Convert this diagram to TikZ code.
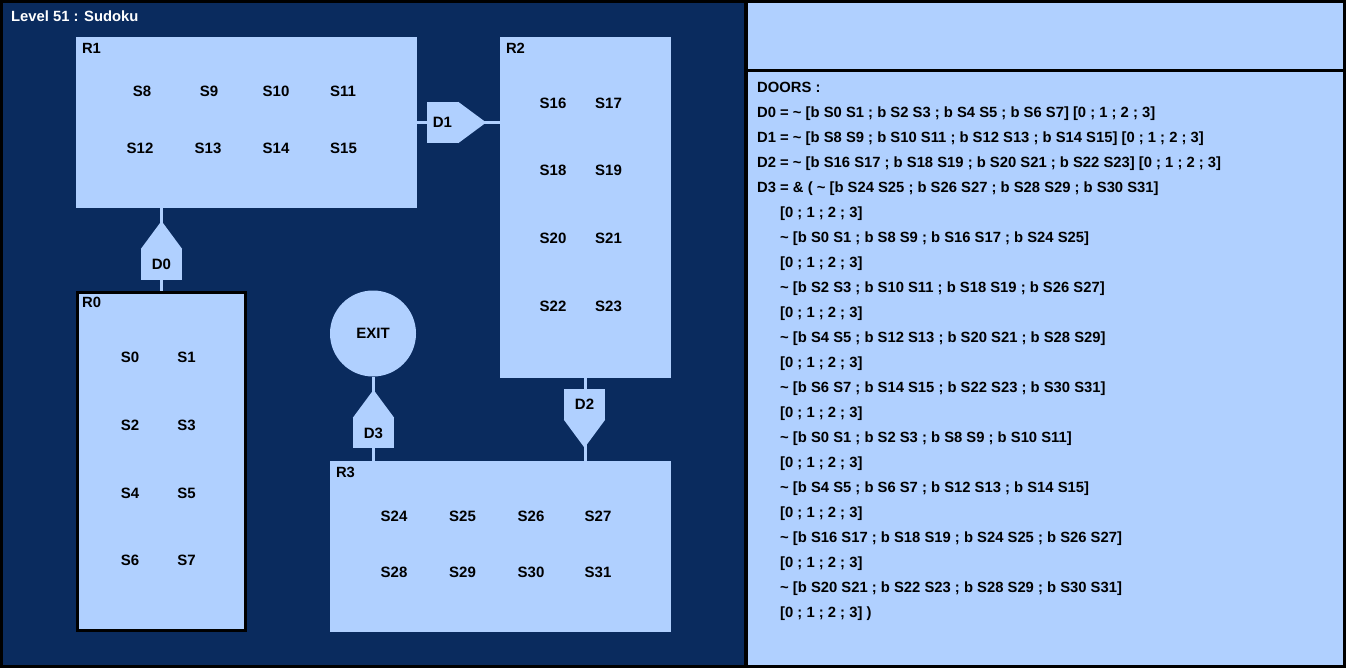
\documentclass[tikz,border=0pt]{standalone}
\usepackage{fontspec}
\setmainfont{Liberation Sans}
\usetikzlibrary{shapes,arrows}

\definecolor{mapblue}{RGB}{10,43,94}
\definecolor{roomblue}{RGB}{176,208,255}

\newcommand{\doortilde}{\textasciitilde}
\newcommand{\doorindent}{\hspace*{23pt}}

\begin{document}
\begin{tikzpicture}[x=1pt,y=-1pt]
            \tikzstyle{txt}=[font=\fontsize{14.8}{25}\selectfont\bfseries,inner sep=0]
            \tikzstyle{cell}=[font=\fontsize{15}{18}\selectfont\bfseries,inner sep=0]
            \tikzstyle{panel}=[rectangle,inner sep=0]
            \tikzstyle{room}=[rectangle,fill=roomblue,inner sep=0]
            \tikzstyle{W}=[room,minimum width=341,minimum height=171]   % wide room
            \tikzstyle{T}=[room,minimum width=171,minimum height=341]   % tall room
            \tikzstyle{door}=[rectangle,fill=roomblue,inner sep=0,font=\fontsize{15}{18}\selectfont\bfseries]
            \tikzstyle{link}=[line width=3pt,draw=roomblue]

            \useasboundingbox (0,0) rectangle (1346,668);
            \fill[black] (0,0) rectangle (1346,668);

            \node[panel,fill=mapblue,minimum width=741,minimum height=662] (map) at (373.5,334) {};
            \node[panel,fill=roomblue,minimum width=595,minimum height=66] (info) at (1045.5,36) {};
            \node[panel,fill=roomblue,minimum width=595,minimum height=593] (list) at (1045.5,368.5) {};

            \node[txt,white,anchor=base west] (title) at (11,21.7) {Level 51 : Sudoku};

            \node[W] (R1) at (246.5,122.5) {};
            \node[T] (R2) at (585.5,207.2) {};
            \node[W] (R3) at (500.5,546.3) {};
            \node[room,draw=black,line width=3pt,minimum width=168,minimum height=338] (R0) at (161.4,461.4) {};
            \node[circle,fill=roomblue,minimum size=86,inner sep=0,font=\fontsize{15}{18}\selectfont\bfseries] (exit) at (373,333.5) {EXIT};

            % corridors
            \draw[link] (R1.east) -- (R1.east -| R2.west);
            \draw[link] (R0.north |- R1.south) -- (R0.north);
            \draw[link] (R2.south) -- (R2.south |- R3.north);
            \draw[link] (exit.south) -- (exit.south |- R3.north);

            \node[door,minimum width=31,minimum height=41] (D1) at (442.5,122.5) {D1};
            \node[door,minimum width=41,minimum height=31] (D0) at (161.5,264.7) {D0};
            \node[door,minimum width=41,minimum height=31] (D2) at (584.5,404) {D2};
            \node[door,minimum width=41,minimum height=30] (D3) at (373.5,433) {D3};

            % door tips
            \fill[roomblue] (D1.north east) -- ([xshift=28pt]D1.east) -- (D1.south east) -- cycle;
            \fill[roomblue] (D0.north west) -- ([yshift=28pt]D0.north) -- (D0.north east) -- cycle;
            \fill[roomblue] (D2.south west) -- ([yshift=-28pt]D2.south) -- (D2.south east) -- cycle;
            \fill[roomblue] (D3.north west) -- ([yshift=28pt]D3.north) -- (D3.north east) -- cycle;

            \node[txt,anchor=base west] (R1name) at ([xshift=6pt,yshift=-17pt]R1.north west) {R1};
            \node[txt,anchor=base west] (R2name) at ([xshift=6pt,yshift=-17pt]R2.north west) {R2};
            \node[txt,anchor=base west] (R3name) at ([xshift=6pt,yshift=-17pt]R3.north west) {R3};
            \node[txt,anchor=base west] (R0name) at ([xshift=6pt,yshift=-17pt]R0.north west) {R0};

            % cells of R1
            \node[cell] (S8)  at (142,91.7) {S8};   \node[cell] (S9)  at (209,91.7) {S9};
            \node[cell] (S10) at (276,91.7) {S10};  \node[cell] (S11) at (343,91.7) {S11};
            \node[cell] (S12) at (140,148.5) {S12}; \node[cell] (S13) at (208,148.5) {S13};
            \node[cell] (S14) at (276,148.5) {S14}; \node[cell] (S15) at (343.5,148.5) {S15};

            % cells of R2
            \node[cell] (S16) at (553,103.5) {S16}; \node[cell] (S17) at (608.5,103.5) {S17};
            \node[cell] (S18) at (553,170.5) {S18}; \node[cell] (S19) at (608.5,170.5) {S19};
            \node[cell] (S20) at (553,238) {S20};   \node[cell] (S21) at (608.5,238) {S21};
            \node[cell] (S22) at (553,306.5) {S22}; \node[cell] (S23) at (608.5,306.5) {S23};

            % cells of R0
            \node[cell] (S0) at (130,357.5) {S0};   \node[cell] (S1) at (186.5,357.5) {S1};
            \node[cell] (S2) at (130,425) {S2};     \node[cell] (S3) at (186.5,425) {S3};
            \node[cell] (S4) at (130,493) {S4};     \node[cell] (S5) at (186.5,493) {S5};
            \node[cell] (S6) at (130,560) {S6};     \node[cell] (S7) at (186.5,560) {S7};

            % cells of R3
            \node[cell] (S24) at (394,516) {S24};   \node[cell] (S25) at (462.5,516) {S25};
            \node[cell] (S26) at (531,516) {S26};   \node[cell] (S27) at (598,516) {S27};
            \node[cell] (S28) at (394,572.5) {S28}; \node[cell] (S29) at (462.5,572.5) {S29};
            \node[cell] (S30) at (531,572.5) {S30}; \node[cell] (S31) at (598,572.5) {S31};

            \node[txt,anchor=north west,align=left] (doors) at (757,82.3) {DOORS :\\
                D0 = \doortilde{} [b S0 S1 ; b S2 S3 ; b S4 S5 ; b S6 S7] [0 ; 1 ; 2 ; 3]\\
                D1 = \doortilde{} [b S8 S9 ; b S10 S11 ; b S12 S13 ; b S14 S15] [0 ; 1 ; 2 ; 3]\\
                D2 = \doortilde{} [b S16 S17 ; b S18 S19 ; b S20 S21 ; b S22 S23] [0 ; 1 ; 2 ; 3]\\
                D3 = \& ( \doortilde{} [b S24 S25 ; b S26 S27 ; b S28 S29 ; b S30 S31]\\
                \doorindent[0 ; 1 ; 2 ; 3]\\
                \doorindent\doortilde{} [b S0 S1 ; b S8 S9 ; b S16 S17 ; b S24 S25]\\
                \doorindent[0 ; 1 ; 2 ; 3]\\
                \doorindent\doortilde{} [b S2 S3 ; b S10 S11 ; b S18 S19 ; b S26 S27]\\
                \doorindent[0 ; 1 ; 2 ; 3]\\
                \doorindent\doortilde{} [b S4 S5 ; b S12 S13 ; b S20 S21 ; b S28 S29]\\
                \doorindent[0 ; 1 ; 2 ; 3]\\
                \doorindent\doortilde{} [b S6 S7 ; b S14 S15 ; b S22 S23 ; b S30 S31]\\
                \doorindent[0 ; 1 ; 2 ; 3]\\
                \doorindent\doortilde{} [b S0 S1 ; b S2 S3 ; b S8 S9 ; b S10 S11]\\
                \doorindent[0 ; 1 ; 2 ; 3]\\
                \doorindent\doortilde{} [b S4 S5 ; b S6 S7 ; b S12 S13 ; b S14 S15]\\
                \doorindent[0 ; 1 ; 2 ; 3]\\
                \doorindent\doortilde{} [b S16 S17 ; b S18 S19 ; b S24 S25 ; b S26 S27]\\
                \doorindent[0 ; 1 ; 2 ; 3]\\
                \doorindent\doortilde{} [b S20 S21 ; b S22 S23 ; b S28 S29 ; b S30 S31]\\
                \doorindent[0 ; 1 ; 2 ; 3] )};
\end{tikzpicture}
\end{document}
